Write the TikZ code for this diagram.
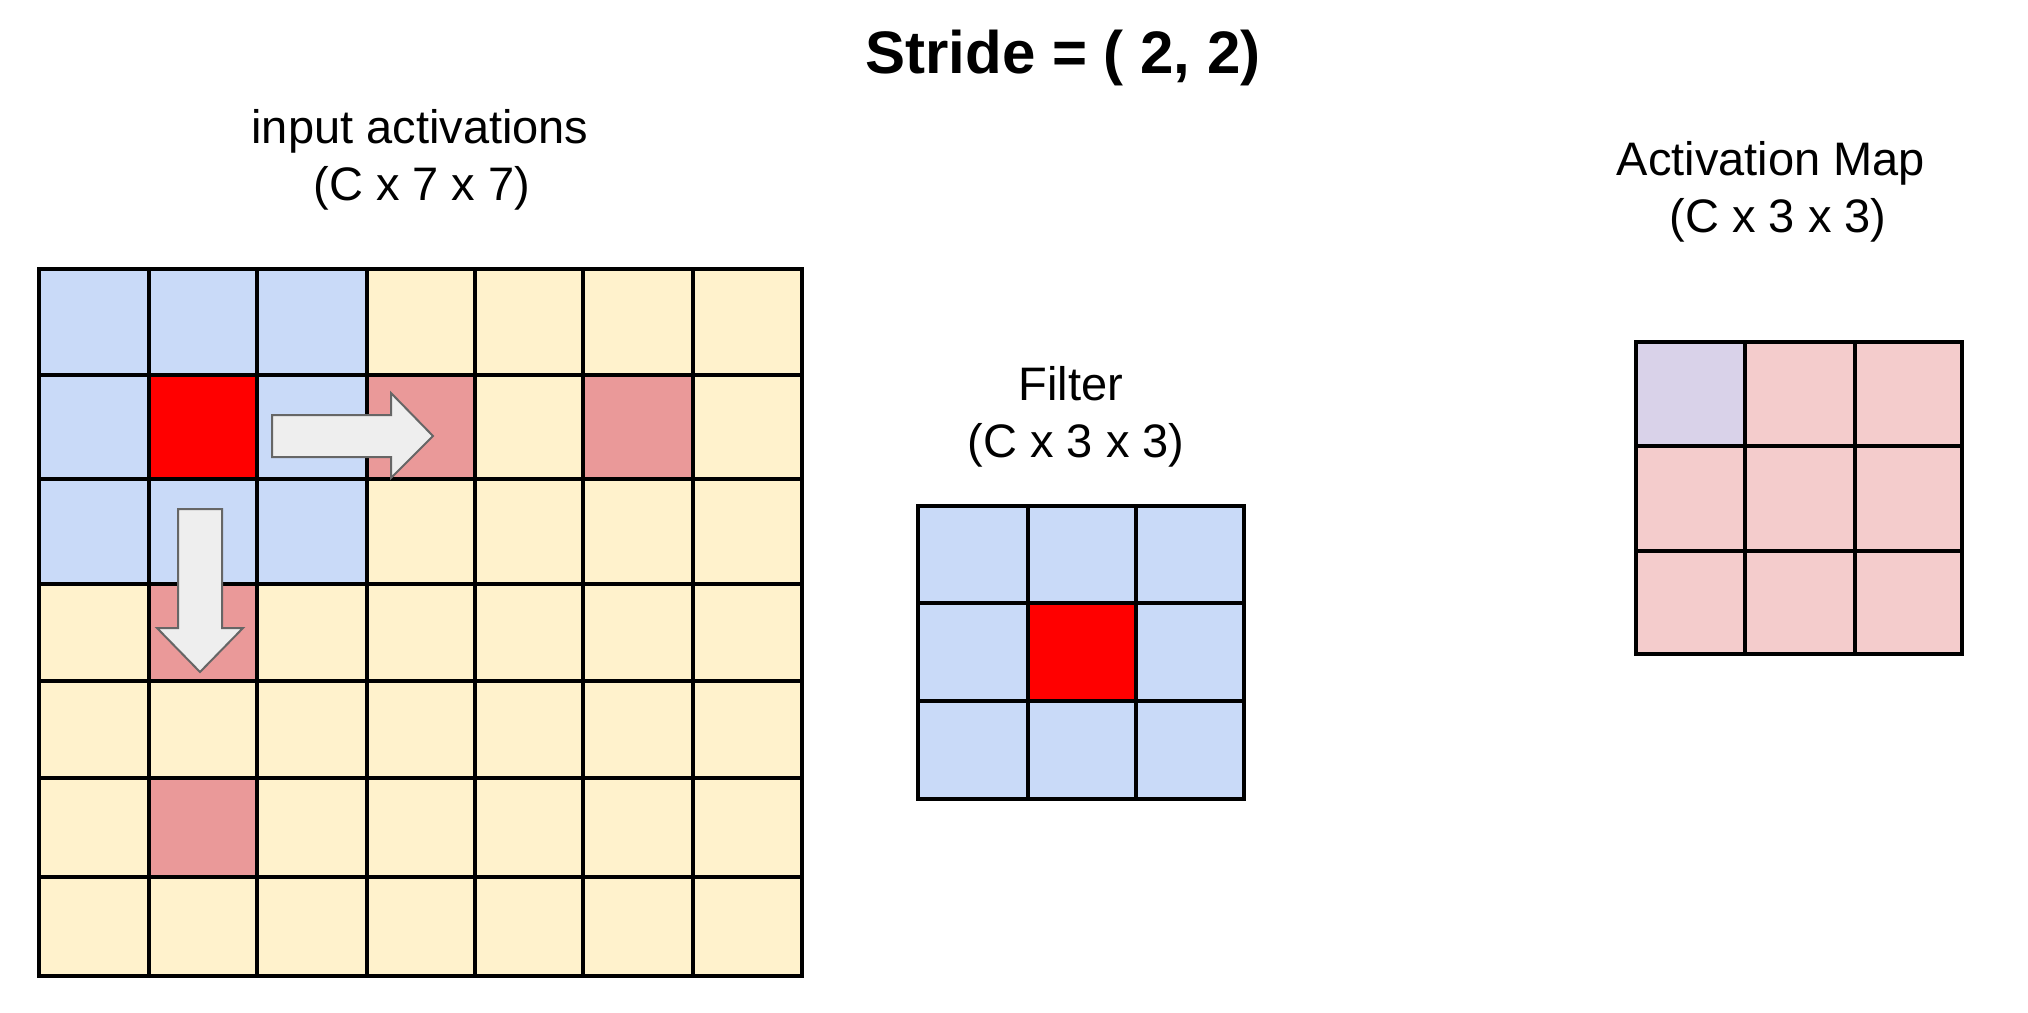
\documentclass[tikz,border=0pt]{standalone}
\usepackage{fontspec}
\setmainfont{Liberation Sans}
\definecolor{cblue}{HTML}{C9DAF8}
\definecolor{cyellow}{HTML}{FFF2CC}
\definecolor{cpink}{HTML}{EA9999}
\definecolor{cred}{HTML}{FF0000}
\definecolor{clight}{HTML}{F4CCCC}
\definecolor{cpurple}{HTML}{D9D2E9}
\definecolor{carrowfill}{HTML}{EEEEEE}
\definecolor{carrowline}{HTML}{666666}
\begin{document}
\begin{tikzpicture}[x=0.5pt,y=-0.5pt,
  gridline/.style={draw=black,line width=2.4pt,line cap=rect},
  blockarrow/.style={fill=carrowfill,draw=carrowline,line width=1pt,line join=miter},
  lbl/.style={font=\fontsize{23.5}{28}\selectfont,anchor=base,inner sep=0pt},
  ttl/.style={font=\fontsize{30}{35}\selectfont\bfseries,anchor=base,inner sep=0pt}]
\useasboundingbox[fill=white] (0,0) rectangle (2028,1012);
% ---------- input activations 7x7 ----------
\fill[cyellow] (39,269) rectangle (802,976);
\fill[cblue] (39,269) rectangle (367,584);
\fill[cred] (149,375) rectangle (257,479);
\fill[cpink] (367,375) rectangle (475,479);
\fill[cpink] (583,375) rectangle (693,479);
\fill[cpink] (149,584) rectangle (257,681);
\fill[cpink] (149,778) rectangle (257,877);
\foreach \x in {39,149,257,367,475,583,693,802} \draw[gridline] (\x,269) -- (\x,976);
\foreach \y in {269,375,479,584,681,778,877,976} \draw[gridline] (39,\y) -- (802,\y);
% arrows
\draw[blockarrow] (272,415) -- (391,415) -- (391,393) -- (433,436) -- (391,478) -- (391,457) -- (272,457) -- cycle;
\draw[blockarrow] (178,509) -- (222,509) -- (222,628) -- (243,628) -- (200,672) -- (157,628) -- (178,628) -- cycle;
% ---------- filter 3x3 ----------
\fill[cblue] (918,506) rectangle (1244,799);
\fill[cred] (1028,603) rectangle (1136,701);
\foreach \x in {918,1028,1136,1244} \draw[gridline] (\x,506) -- (\x,799);
\foreach \y in {506,603,701,799} \draw[gridline] (918,\y) -- (1244,\y);
% ---------- activation map 3x3 ----------
\fill[clight] (1636,342) rectangle (1962,654);
\fill[cpurple] (1636,342) rectangle (1745,446);
\foreach \x in {1636,1745,1855,1962} \draw[gridline] (\x,342) -- (\x,654);
\foreach \y in {342,446,551,654} \draw[gridline] (1636,\y) -- (1962,\y);
% ---------- texts ----------
\node[ttl] (title) at (1063,73) {Stride = ( 2, 2)};
\node[lbl] (in1) at (420,143) {input activations};
\node[lbl] (in2) at (422,200) {(C x 7 x 7)};
\node[lbl] (f1) at (1071,400) {Filter};
\node[lbl] (f2) at (1076,457) {(C x 3 x 3)};
\node[lbl] (a1) at (1771,175) {Activation Map};
\node[lbl] (a2) at (1778,232) {(C x 3 x 3)};
\end{tikzpicture}
\end{document}
